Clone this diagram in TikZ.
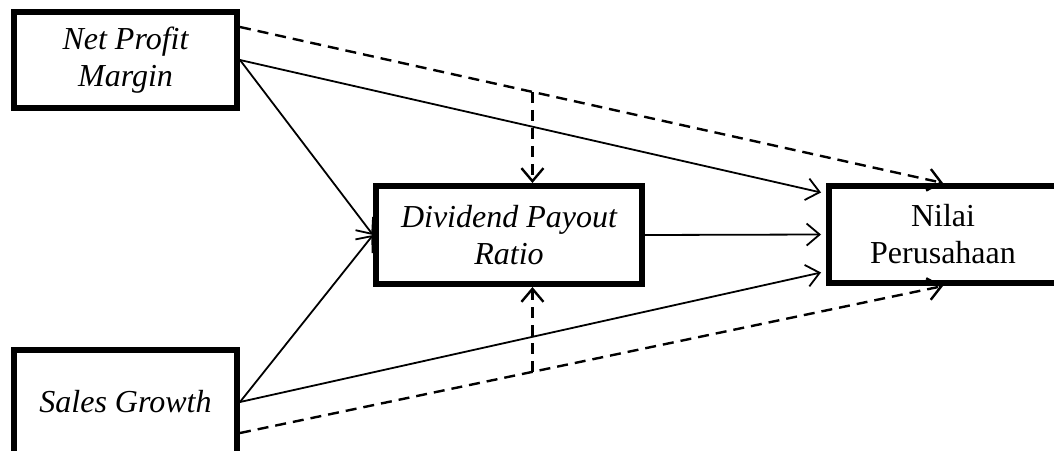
\documentclass[tikz,border=0pt]{standalone}
\usepackage{fontspec}
\setmainfont{Liberation Serif}
\usetikzlibrary{arrows.meta,calc}
\begin{document}
\begin{tikzpicture}[x=1pt,y=-1pt,
  box/.style={draw,line width=6pt,inner sep=0pt,align=center,
    font=\fontsize{32}{37}\selectfont},
  ibox/.style={box,font=\fontsize{32}{37}\selectfont\itshape},
  solidarr/.style={line width=1.8pt,-{Straight Barb[length=13pt,width=22pt,line width=1.8pt]}},
  dasharr/.style={line width=2.4pt,dash pattern=on 11pt off 7pt,-{Straight Barb[length=13pt,width=22pt,line width=2.4pt]}}
]
\useasboundingbox (0,0) rectangle (1054,450);
\fill[white] (0,0) rectangle (1054,450);
\node[ibox,minimum width=223pt,minimum height=96pt] (npm) at (125.5,60) {Net Profit\\Margin};
\node[ibox,minimum width=223pt,minimum height=104pt] (sg) at (125.5,402) {Sales Growth};
\node[ibox,minimum width=266pt,minimum height=98pt] (dpr) at (509,235) {Dividend Payout\\Ratio};
\node[box,minimum width=228pt,minimum height=97pt] (np) at (943,234.5) {Nilai\\Perusahaan};

\draw[solidarr] (npm.east) -- (dpr.west);
\draw[solidarr] (npm.east) -- ($(np.west)+(-5,-42)$);
\draw[solidarr] (sg.east) -- (dpr.west);
\draw[solidarr] (sg.east) -- ($(np.west)+(-5,38)$);
\draw[solidarr] (dpr.east) -- ($(np.west)+(-5,0)$);

\coordinate (d1) at ($(npm.east)+(0,-33)$);
\coordinate (d2) at ($(sg.east)+(0,31)$);
\draw[dasharr] (d1) -- (np.north);
\draw[dasharr] (d2) -- (np.south);
\coordinate (m1) at ($(d1)!0.416!(np.north)$);
\coordinate (m2) at ($(d2)!0.416!(np.south)$);
\draw[dasharr] (m1) -- (m1 |- dpr.north);
\draw[dasharr] (m2) -- (m2 |- dpr.south);
\end{tikzpicture}
\end{document}
